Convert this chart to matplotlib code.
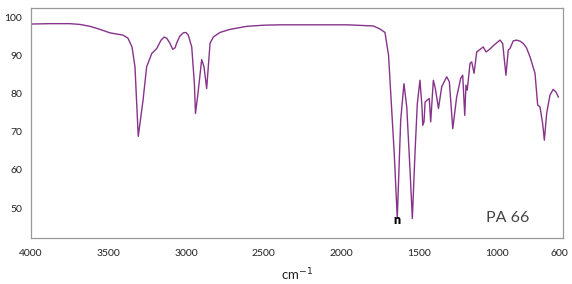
import numpy as np
import matplotlib
matplotlib.use('Agg')
import matplotlib.pyplot as plt

plt.rcParams['font.family'] = ['Lato', 'DejaVu Sans']

# FTIR spectrum of PA 66 (wavenumber cm-1, transmittance %)
wavenumber = [4000, 3875, 3746, 3682, 3617, 3553, 3489, 3405, 3373, 3347,
              3328, 3307, 3276, 3253, 3220, 3188, 3160, 3140, 3124, 3105,
              3085, 3070, 3060, 3040, 3017, 3000, 2985, 2963, 2946, 2939,
              2923, 2899, 2884, 2867, 2845, 2824, 2800, 2781, 2750, 2717,
              2650, 2609, 2500, 2395, 1966, 1795, 1752, 1720, 1697,
              1680, 1660, 1641, 1619, 1598, 1580, 1559, 1544, 1527, 1512,
              1495, 1482, 1477, 1469, 1462, 1448, 1435, 1426, 1409, 1396,
              1376, 1355, 1323, 1306, 1284, 1259, 1233, 1220, 1207, 1199,
              1191, 1173, 1162, 1147, 1130, 1088, 1070, 1049, 1019, 980,
              963, 942, 927, 916, 895, 873, 850, 830, 810, 787, 755, 738,
              723, 706, 695, 680, 659, 638, 620, 605]
transmittance = [98.2, 98.3, 98.3, 98.1, 97.6, 96.8, 95.9, 95.3, 94.5, 92.2,
                 87.0, 68.8, 78.3, 87.0, 90.5, 91.8, 94.0, 94.8, 94.5, 93.3,
                 91.6, 92.0, 93.2, 95.0, 95.9, 96.0, 95.3, 92.2, 82.7, 74.8,
                 80.0, 88.9, 87.0, 81.3, 93.2, 94.8, 95.5, 96.0, 96.4, 96.8,
                 97.3, 97.6, 97.9, 98.0, 98.0, 97.7, 96.9, 96.0, 90.0,
                 78.0, 64.0, 47.3, 73.0, 82.6, 76.5, 60.0, 47.3, 64.4, 77.4,
                 83.5, 76.5, 71.7, 72.6, 77.8, 78.3, 78.7, 72.6, 83.5, 81.3,
                 76.1, 81.8, 84.4, 83.1, 70.8, 79.1, 84.0, 84.8, 74.3, 82.2,
                 80.9, 87.9, 88.3, 85.3, 90.9, 92.2, 90.9, 91.5, 92.7, 94.0,
                 93.1, 84.8, 91.4, 91.8, 93.8, 94.0, 93.7, 93.1, 92.0, 89.6, 85.3, 77.0,
                 76.5, 72.2, 67.8, 74.8, 79.6, 81.1, 80.4, 79.1]

x_ticks = [4000, 3500, 3000, 2500, 2000, 1500, 1000, 600]
y_ticks = [50, 60, 70, 80, 90, 100]

fig = plt.figure(figsize=(5.72, 2.84), dpi=100)
ax = fig.add_axes([30.5 / 572, 46 / 284, 532.5 / 572, 230 / 284])

ax.plot(wavenumber, transmittance, color='#86338a', lw=1.0)

# small black marker on the deepest band
i_min = int(np.argmin(transmittance))
ax.text(wavenumber[i_min], transmittance[i_min] - 0.3, 'n', color='black',
        fontsize=9, fontweight='heavy', ha='center', va='center')

ax.set_xlim(4000, 575)
ax.set_ylim(42.2, 102.4)
ax.set_xticks(x_ticks)
ax.set_yticks(y_ticks)
ax.tick_params(length=0, labelsize=7.5, colors='#222222')
ax.tick_params(axis='x', pad=8)
ax.tick_params(axis='y', pad=6)
for s in ax.spines.values():
    s.set_color('#999999')
    s.set_linewidth(0.9)

ax.set_xlabel('cm$^{-1}$', fontsize=9.5, color='#222222', labelpad=6)
ax.text(0.897, 0.085, 'PA 66', transform=ax.transAxes, fontsize=11.5,
        fontweight='normal', color='#444444', ha='center', va='center')

fig.savefig('out.png', dpi=100)
